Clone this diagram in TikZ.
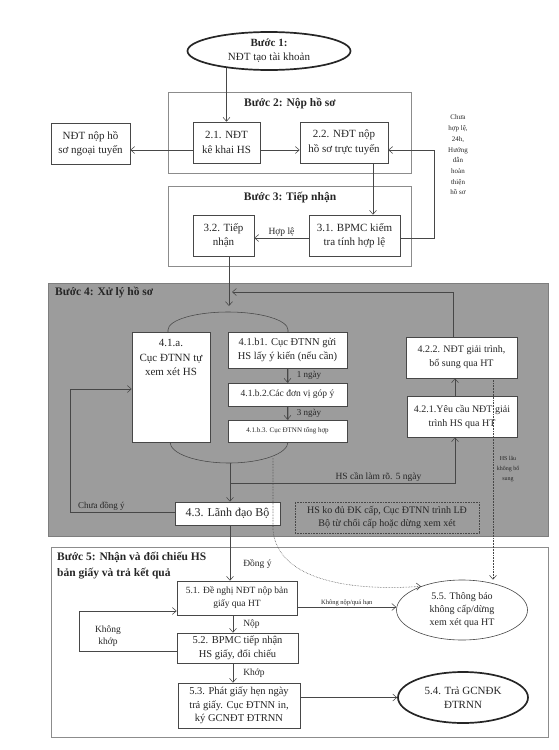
\documentclass[tikz,border=0pt]{standalone}
\usepackage{fontspec}
\setmainfont{Liberation Serif}
\usepackage{xcolor}
\definecolor{mauMuc}{HTML}{262626}
\definecolor{mauDuong}{HTML}{474747}
\definecolor{mauKhung}{HTML}{8C8C8C}
\definecolor{mauXam}{HTML}{9C9C9C}
\definecolor{mauXamVien}{HTML}{7E7E7E}
\usepackage{tikz}
\usetikzlibrary{arrows.meta, positioning, calc, shapes.geometric}
\newcommand{\coChu}[2]{\fontsize{#1}{#2}\selectfont}
\tikzset{
  %% ── Boxes ────────────────────────────────────────────────────────────
  %% White boxes sit on the grey band of step 4, so they always carry a fill;
  %% the dotted box is a note and stays see-through.
  hop/.style        = {draw=mauDuong, line width=0.6pt, fill=white, text=mauMuc,
                       align=center, inner sep=2pt, font=\coChu{11}{14.5}},
  hopCham/.style    = {draw=mauDuong, densely dotted, line width=0.6pt,
                       text=mauMuc, align=center, font=\coChu{10}{12.5}},
  bauDam/.style     = {ellipse, draw=mauMuc, line width=1.7pt, fill=white,
                       text=mauMuc, align=center, inner sep=0pt,
                       font=\coChu{11}{14}},
  bauMong/.style    = {bauDam, draw=mauDuong, line width=0.6pt,
                       font=\coChu{10}{13}},
  khung/.style      = {draw=mauKhung, line width=0.7pt},
  %%
  %% ── Arrows ───────────────────────────────────────────────────────────
  muiTen/.style     = {-{Straight Barb[length=4pt, width=7pt]}, draw=mauDuong,
                       line width=0.55pt},
  muiTenCham/.style = {muiTen, densely dotted},
  %%
  %% ── Text ─────────────────────────────────────────────────────────────
  nhan/.style       = {text=mauMuc, inner sep=1pt, align=center,
                       font=\coChu{9.5}{12}},
  nhanNho/.style    = {nhan, font=\coChu{6.5}{10.7}},
  tieuDe/.style     = {text=mauMuc, inner sep=0pt, align=left,
                       font=\coChu{11.5}{16}\bfseries},
}

\begin{document}
\begin{tikzpicture}[x=1pt, y=-1pt]
\useasboundingbox (0,0) rectangle (558,750);

\fill[mauXam, draw=mauXamVien] (48,283) rectangle (548,536);
\draw[khung] (168,92) rectangle (411,173);
\draw[khung] (168,186) rectangle (411,266);
\draw[khung] (51,547) rectangle (548,737);
\draw[draw=mauDuong, line width=0.55pt] (168,442) -- (168,330)
     arc[start angle=180, end angle=0, x radius=60pt, y radius=18pt] -- (288,442)
     arc[start angle=0, end angle=-180, x radius=59pt, y radius=21pt];

\node[tieuDe] (tdBuoc2) at (290,104) {Bước 2: Nộp hồ sơ};
\node[tieuDe] (tdBuoc3) at (290,198) {Bước 3: Tiếp nhận};
\node[tieuDe, anchor=west] (tdBuoc4) at (55,293) {Bước 4: Xử lý hồ sơ};
\node[tieuDe, anchor=north west] (tdBuoc5) at (57,552)
     {Bước 5: Nhận và đối chiếu HS\\bản giấy và trả kết quả};

\node[bauDam, minimum width=163pt, minimum height=38pt] (buoc1) at (269,51)
     {\textbf{Bước 1:}\\NĐT tạo tài khoản};
\node[hop, minimum width=79pt, minimum height=41pt] (ngoaiTuyen) at (90.5,143.5)
     {NĐT nộp hồ\\sơ ngoại tuyến};
\node[hop, minimum width=67pt, minimum height=41pt] (b21) at (226.5,142.5)
     {2.1. NĐT\\kê khai HS};
\node[hop, minimum width=88pt, minimum height=41pt] (b22) at (344,142.5)
     {2.2. NĐT nộp\\hồ sơ trực tuyến};
\node[hop, minimum width=61pt, minimum height=41pt] (b32) at (223.5,235.5)
     {3.2. Tiếp\\nhận};
\node[hop, minimum width=91pt, minimum height=41pt] (b31) at (354.5,235.5)
     {3.1. BPMC kiểm\\tra tính hợp lệ};
\node[nhanNho, font=\coChu{7}{10.7}] (chuaHopLe) at (458,155)
     {Chưa\\hợp lệ,\\24h,\\Hướng\\dẫn\\hoàn\\thiện\\hồ sơ};

\node[hop, minimum width=78pt, minimum height=110pt] (b41a) at (171,387)
     {4.1.a.\\Cục ĐTNN tự\\xem xét HS\\[44pt]~};
\node[hop, minimum width=119pt, minimum height=36pt, font=\coChu{10.5}{14}] (b41b1)
     at (287.5,350) {4.1.b1. Cục ĐTNN gửi\\HS lấy ý kiến (nếu cần)};
\node[hop, minimum width=119pt, minimum height=23pt, font=\coChu{9.5}{12}] (b41b2)
     at (287.5,394.5) {4.1.b.2.Các đơn vị góp ý};
\node[hop, minimum width=119pt, minimum height=22pt, font=\coChu{7}{9}] (b41b3)
     at (287.5,431) {4.1.b.3. Cục ĐTNN tổng hợp};
\node[hop, minimum width=111pt, minimum height=41pt, font=\coChu{10}{14}] (b422)
     at (461.5,357.5) {4.2.2. NĐT giải trình,\\bổ sung qua HT};
\node[hop, minimum width=110pt, minimum height=41pt, font=\coChu{10}{14}] (b421)
     at (462,416.5) {4.2.1.Yêu cầu NĐT giải\\trình HS qua HT};
\node[hop, minimum width=105pt, minimum height=23pt, font=\coChu{12}{14}] (b43)
     at (227.5,513.5) {4.3. Lãnh đạo Bộ};
\node[hopCham, minimum width=184pt, minimum height=31pt] (tuChoi) at (387,517.5)
     {HS ko đủ ĐK cấp, Cục ĐTNN trình LĐ\\Bộ từ chối cấp hoặc dừng xem xét};
\node[nhanNho, font=\coChu{6}{10}] (hsLau) at (508,469) {HS lâu\\không bổ\\sung};

\node[hop, minimum width=120pt, minimum height=34pt, font=\coChu{9.5}{13}] (b51)
     at (237,598) {5.1. Đề nghị NĐT nộp bản\\giấy qua HT};
\node[hop, minimum width=121pt, minimum height=30pt, font=\coChu{10.5}{13.5}] (b52)
     at (237.5,648) {5.2. BPMC tiếp nhận\\HS giấy, đối chiếu};
\node[hop, minimum width=122pt, minimum height=45pt, font=\coChu{10.5}{13.5}] (b53)
     at (239,705.5) {5.3. Phát giấy hẹn ngày\\trả giấy. Cục ĐTNN in,\\ký GCNĐT ĐTRNN};
\node[bauMong, minimum width=131pt, minimum height=60pt] (b55) at (462,610)
     {5.5. Thông báo\\không cấp/dừng\\xem xét qua HT};
\node[bauDam, minimum width=130pt, minimum height=51pt] (b54) at (463,697.5)
     {5.4. Trả GCNĐK\\ĐTRNN};
\node[nhan] (khongKhop) at (108,636) {Không\\khớp};

\coordinate (dinhOval) at (229,306);
\coordinate (nhapVong) at (232,292);
\coordinate (dayOval) at (230,463);
\coordinate (reNhanh) at (230,483);
\coordinate (gocVong) at (434,150);
\coordinate (gocChua) at (70,389);
\coordinate (gocKhop) at (79,611);
\coordinate (chamA) at (273,458);
\coordinate (chamB) at (273,530);

\draw[muiTen] ([yshift=3pt]buoc1.south -| b21.north) -- (b21.north);
\draw[muiTen] ([yshift=-7.5pt]b21.west) -- ([yshift=-7.5pt]b21.west -| ngoaiTuyen.east);
\draw[muiTen] ([yshift=-7.5pt]b21.east) -- ([yshift=-7.5pt]b21.east -| b22.west);
\draw[muiTen] ([yshift=-2.5pt]b31.east) -| (gocVong) -- (gocVong -| b22.east);
\draw[muiTen] ([xshift=29pt]b22.south) -- ([xshift=29pt]b22.south |- b31.north);
\draw[muiTen] ([yshift=-2.5pt]b31.west) -- node[nhan, above] (hopLe) {Hợp lệ}
     ([yshift=-2.5pt]b31.west -| b32.east);
\draw[muiTen] (b32.south -| dinhOval) -- (dinhOval);
\draw[muiTen] ([xshift=-8.5pt]b422.north) |- (nhapVong);
\draw[muiTen] ([xshift=-7pt]b421.north) -- ([xshift=-7pt]b421.north |- b422.south);
\draw[muiTen] (b41b1.south) -- node[nhan, right=8pt, font=\coChu{9}{11}] (motNgay) {1 ngày}
     (b41b2.north);
\draw[muiTen] (b41b2.south) -- node[nhan, right=8pt, font=\coChu{9}{11}] (baNgay) {3 ngày}
     (b41b3.north);
\draw[muiTen] (dayOval) -- (dayOval |- b43.north);
\draw[muiTen] (reNhanh) -| node[nhan, above, pos=0.33] (lamRo) {HS cần làm rõ. 5 ngày}
     ([xshift=-7pt]b421.south);
\draw[muiTen] ([yshift=1.5pt]b43.west) -| node[nhan, above, pos=0.35, font=\coChu{9}{11}]
     (chuaDongY) {Chưa đồng ý} (gocChua) -- (gocChua -| b41a.west);

\draw[muiTen] ([xshift=2.5pt]b43.south) -- node[nhan, right=12pt, pos=0.7] (dongY) {Đồng ý}
     ([xshift=2.5pt]b43.south |- b51.north);
\draw[muiTen] ([xshift=-4pt]b51.south) -- node[nhan, right=9pt] (nop) {Nộp}
     ([xshift=-4pt]b51.south |- b52.north);
\draw[muiTen] ([xshift=-4.5pt]b52.south) -- node[nhan, right=9pt] (khop) {Khớp}
     ([xshift=-4.5pt]b52.south |- b53.north);
\draw[muiTen] ([yshift=-3pt]b52.west) -| (gocKhop) -- (gocKhop -| b51.west);
\draw[muiTen] ([yshift=-9pt]b51.east) -- node[nhanNho, above] (khongNop) {Không nộp/quá hạn}
     ([yshift=-9pt]b51.east -| b55.west);
\draw[muiTen] (b54.west -| b53.east) -- (b54.west);

\draw[muiTenCham] (chamA) -- (chamB) .. controls (277,576) and (340,592) .. (b55.150);
\draw[muiTenCham] ([xshift=31.5pt]b422.south) -- ([xshift=31.5pt]b422.south |- b55.north);

\end{tikzpicture}
\end{document}
